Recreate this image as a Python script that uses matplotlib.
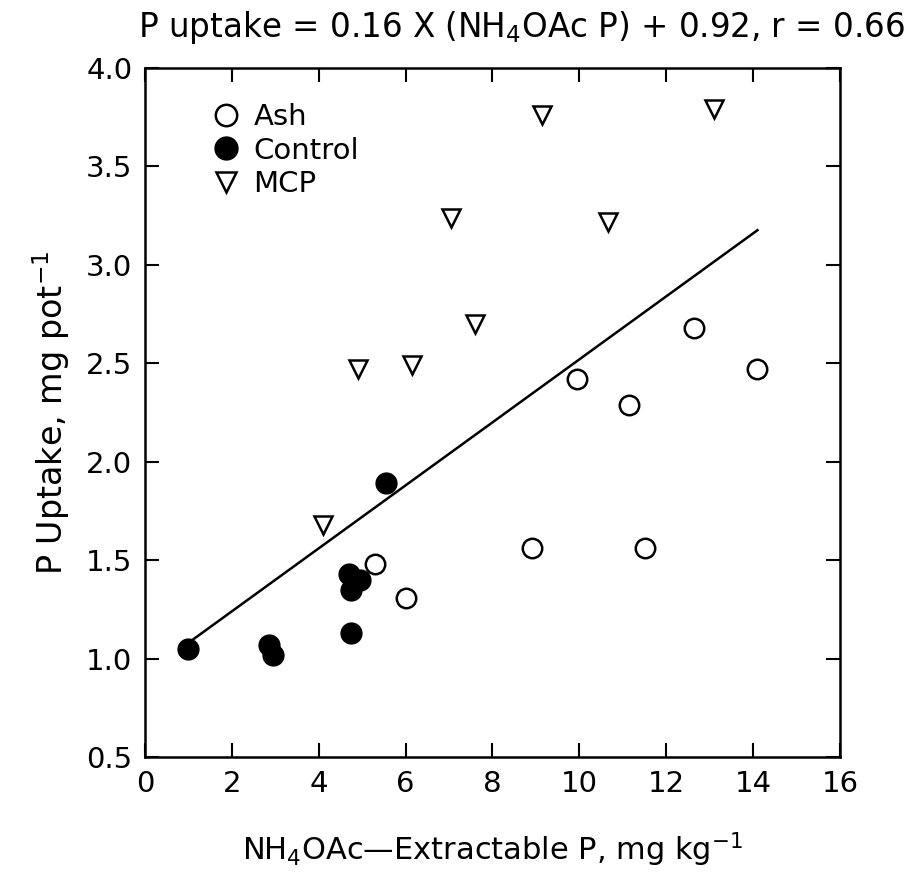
import matplotlib
matplotlib.use("Agg")
import matplotlib.pyplot as plt
import numpy as np

plt.rcParams['font.family'] = ['DejaVu Sans']
plt.rcParams['mathtext.default'] = 'regular'

ash_x = [5.3, 6.0, 8.9, 9.95, 11.15, 11.5, 12.65, 14.1]
ash_y = [1.48, 1.31, 1.56, 2.42, 2.29, 1.56, 2.68, 2.47]
ctrl_x = [1.0, 2.85, 2.95, 4.7, 4.95, 4.75, 4.75, 5.55]
ctrl_y = [1.05, 1.07, 1.02, 1.43, 1.40, 1.35, 1.13, 1.89]
mcp_x = [4.1, 4.9, 6.15, 7.6, 7.05, 9.15, 10.65, 13.1]
mcp_y = [1.68, 2.47, 2.49, 2.70, 3.24, 3.76, 3.22, 3.79]
slope, intercept = 0.16, 0.92
fit_x = [1.0, 14.1]
xticks = [0, 2, 4, 6, 8, 10, 12, 14, 16]
yticks = [0.5, 1.0, 1.5, 2.0, 2.5, 3.0, 3.5, 4.0]

fig = plt.figure(figsize=(9.12, 8.73), dpi=100)
ax = fig.add_axes([145/912, 1-757/873, (840-145)/912, (757-68)/873])

ax.plot(ash_x, ash_y, linestyle='none', marker='o', ms=14, mfc='white', mec='black', mew=1.8, label='Ash', zorder=3)
ax.plot(ctrl_x, ctrl_y, linestyle='none', marker='o', ms=15, mfc='black', mec='black', mew=1.0, label='Control', zorder=3)
ax.plot(mcp_x, mcp_y, linestyle='none', marker='v', ms=13, mfc='white', mec='black', mew=1.8, label='MCP', zorder=3)

fx = np.array(fit_x)
ax.plot(fx, slope*fx + intercept, color='black', lw=1.8, zorder=2)

ax.set_xlim(0, 16)
ax.set_ylim(0.5, 4.0)
ax.set_xticks(xticks)
ax.set_yticks(yticks)
ax.set_xticklabels([str(t) for t in xticks])
ax.set_yticklabels([f"{t:.1f}" for t in yticks])
ax.tick_params(direction='in', length=10, width=1.5, top=True, right=True, labelsize=21, pad=9)
for s in ax.spines.values():
    s.set_linewidth(1.8)

ax.set_xlabel('NH$_4$OAc\u2014Extractable P, mg kg$^{-1}$', fontsize=22, labelpad=24)
ax.set_ylabel('P Uptake, mg pot$^{-1}$', fontsize=24, labelpad=10)

fig.text(905/912, 1-28/873, 'P uptake = 0.16 X (NH$_4$OAc P) + 0.92, r = 0.66',
         ha='right', va='center', fontsize=23.5)

leg = ax.legend(loc='upper left', bbox_to_anchor=(0.07, 0.975), frameon=False,
                fontsize=21, handletextpad=0.45, labelspacing=0.2, borderaxespad=0.2,
                handlelength=1.0, markerscale=1.1)

fig.savefig('out.png', dpi=100)
